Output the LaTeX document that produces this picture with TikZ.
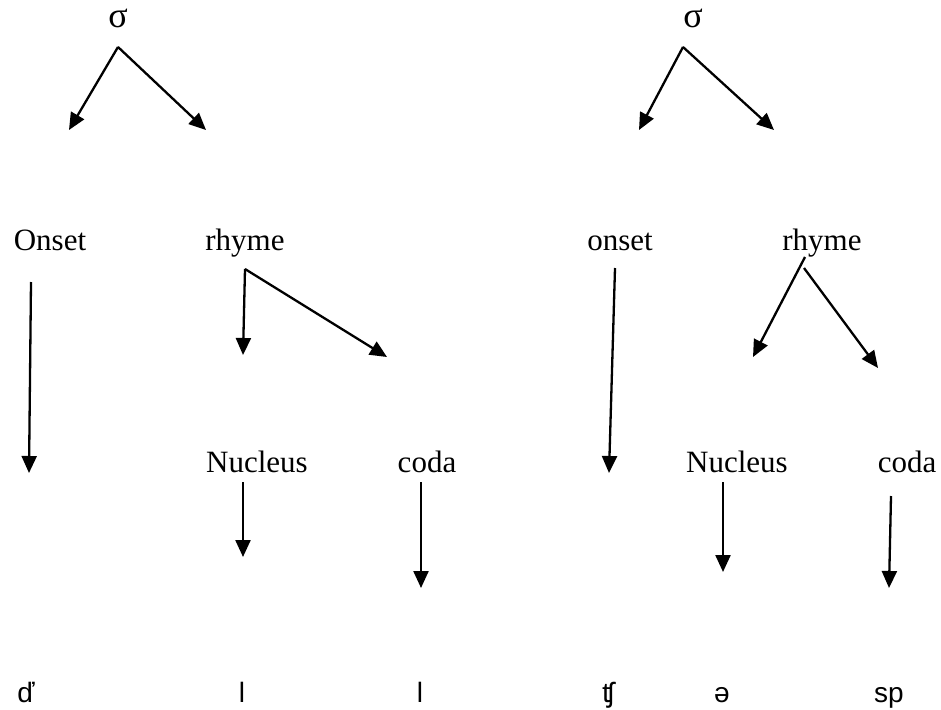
\documentclass[tikz,border=0pt]{standalone}
\usepackage{fontspec}
\setmainfont{Liberation Serif}
\newfontfamily\ipafont{Liberation Sans}
\usetikzlibrary{arrows.meta}
\tikzset{
  lbl/.style={inner sep=0pt, anchor=base, font=\fontsize{31}{36}\selectfont},
  sig/.style={lbl, font=\fontsize{36}{40}\selectfont},
  seg/.style={inner sep=0pt, anchor=base, font=\ipafont\fontsize{28}{32}\selectfont},
  arr/.style={line width=2.3pt, -{Triangle[length=17pt,width=15pt]}},
}
\begin{document}
\begin{tikzpicture}[x=1pt,y=-1pt]
  \useasboundingbox (0,0) rectangle (941,709);

  % ---- first syllable ----
  \node[sig] (sigA) at (118,28) {σ};
  \node[lbl] (onsA) at (50,250) {Onset};
  \node[lbl] (rhyA) at (245,250) {rhyme};
  \node[lbl] (nucA) at (257,472) {Nucleus};
  \node[lbl] (codA) at (427,472) {coda};
  \node[seg] (s1) at (26,702) {ď};
  \node[seg] (s2) at (242,702) {l};
  \node[seg] (s3) at (420,702) {l};

  \coordinate (sigAo) at (118,47);
  \coordinate (onsAin) at (69,130);
  \coordinate (rhyAin) at (206,130);
  \coordinate (onsAo) at (31,282);
  \coordinate (onsAend) at (29,473);
  \coordinate (rhyAo) at (245,269);
  \coordinate (nucAin) at (243,355);
  \coordinate (codAin) at (387,357);
  \coordinate (nucAo) at (243,482);
  \coordinate (nucAend) at (243,557);
  \coordinate (codAo) at (421,482);
  \coordinate (codAend) at (421,588);

  \draw[arr] (sigAo) -- (onsAin);
  \draw[arr] (sigAo) -- (rhyAin);
  \draw[arr] (onsAo) -- (onsAend);
  \draw[arr] (rhyAo) -- (nucAin);
  \draw[arr] (rhyAo) -- (codAin);
  \draw[arr] (nucAo) -- (nucAend);
  \draw[arr] (codAo) -- (codAend);

  % ---- second syllable ----
  \node[sig] (sigB) at (693,28) {σ};
  \node[lbl] (onsB) at (620,250) {onset};
  \node[lbl] (rhyB) at (822,250) {rhyme};
  \node[lbl] (nucB) at (737,472) {Nucleus};
  \node[lbl] (codB) at (907,472) {coda};
  \node[seg] (s4) at (608,702) {ʧ};
  \node[seg] (s5) at (722,702) {ə};
  \node[seg] (s6) at (889,702) {sp};

  \coordinate (sigBo) at (683,47);
  \coordinate (onsBin) at (639,130);
  \coordinate (rhyBin) at (774,130);
  \coordinate (onsBo) at (615,268);
  \coordinate (onsBend) at (609,473);
  \coordinate (rhyBoL) at (805,257);
  \coordinate (rhyBoR) at (804,268);
  \coordinate (nucBin) at (753,357);
  \coordinate (codBin) at (878,368);
  \coordinate (nucBo) at (723,482);
  \coordinate (nucBend) at (723,572);
  \coordinate (codBo) at (891,496);
  \coordinate (codBend) at (889,588);

  \draw[arr] (sigBo) -- (onsBin);
  \draw[arr] (sigBo) -- (rhyBin);
  \draw[arr] (onsBo) -- (onsBend);
  \draw[arr] (rhyBoL) -- (nucBin);
  \draw[arr] (rhyBoR) -- (codBin);
  \draw[arr] (nucBo) -- (nucBend);
  \draw[arr] (codBo) -- (codBend);
\end{tikzpicture}
\end{document}
